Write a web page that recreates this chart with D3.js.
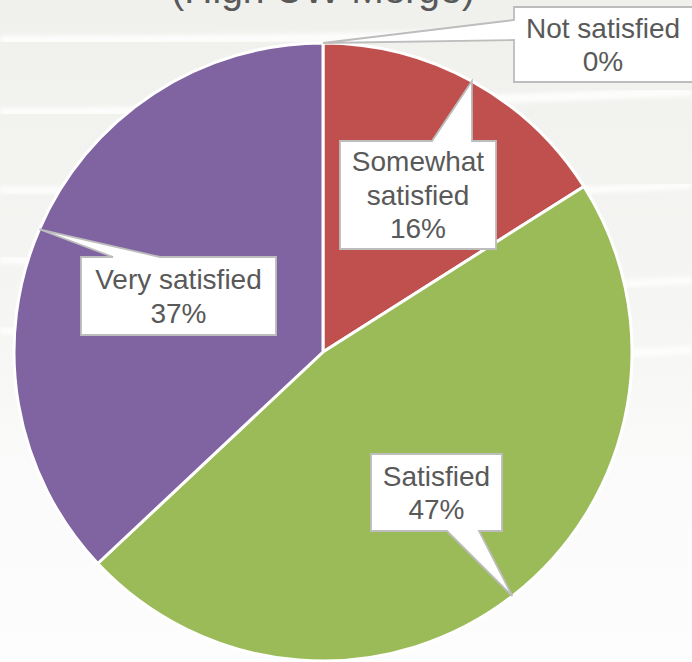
<!DOCTYPE html>
<html>
<head>
<meta charset="utf-8">
<script src="https://d3js.org/d3.v7.min.js"></script>
<style>
  body { margin: 0; background: #fff; }
  svg text { font-family: "Liberation Sans", Arial, sans-serif; fill: #595959; }
</style>
</head>
<body>
<div id="chart"></div>
<script>

// data
var categories = ["Not satisfied", "Somewhat satisfied", "Satisfied", "Very satisfied"]
var values = [0, 16, 47, 37]
var colors = ["#4F81BD", "#C0504D", "#9BBB59", "#8064A2"]
var title = "(High UW Merge)"

// label boxes (layout only)
var boxes = [
  { x: 514, y: 7,   w: 180, h: 75,  side: "left",   b0: 20,  b1: 40 },
  { x: 340, y: 141, w: 156, h: 108, side: "top",    b0: 432, b1: 472 },
  { x: 371, y: 454, w: 131, h: 77,  side: "bottom", b0: 447, b1: 479 },
  { x: 81,  y: 257, w: 195, h: 78,  side: "top",    b0: 113, b1: 160 }
]

var width = 692, height = 662
var cx = 323, cy = 352, radius = 309

var svg = d3.select("#chart").append("svg")
  .attr("width", width)
  .attr("height", height)

// background
var defs = svg.append("defs")
var grad = defs.append("linearGradient").attr("id", "bg")
  .attr("x1", 0).attr("y1", 0).attr("x2", 0).attr("y2", 1)
grad.append("stop").attr("offset", "0%").attr("stop-color", "#f0f1ed")
grad.append("stop").attr("offset", "45%").attr("stop-color", "#f5f6f3")
grad.append("stop").attr("offset", "75%").attr("stop-color", "#fbfbfb")
grad.append("stop").attr("offset", "100%").attr("stop-color", "#fdfdfd")
defs.append("filter").attr("id", "soft")
  .append("feGaussianBlur").attr("stdDeviation", 2)

svg.append("rect").attr("width", width).attr("height", height).attr("fill", "url(#bg)")

// white wave stripes
var stripes = [
  [[0, 40], [250, 40], [500, 34], [692, 24]],
  [[0, 112], [200, 112], [450, 100], [692, 92]],
  [[0, 190], [250, 192], [500, 195], [692, 185]],
  [[0, 260], [300, 265], [520, 290], [692, 280]],
  [[0, 330], [200, 340], [500, 360], [692, 350]]
]
var stripeLine = d3.line().curve(d3.curveBasis)
svg.append("g").selectAll("path")
  .data(stripes)
  .enter().append("path")
    .attr("d", stripeLine)
    .attr("fill", "none")
    .attr("stroke", "#ffffff")
    .attr("stroke-width", function (d, i) { return i < 2 ? 9 : 7 })
    .attr("opacity", 0.85)
    .attr("filter", "url(#soft)")

// title (only its lower part shows in the frame)
svg.append("text")
  .attr("x", cx)
  .attr("y", 3)
  .attr("text-anchor", "middle")
  .style("font-size", "39px")
  .text(title)

// pie
var pie = d3.pie().sort(null).value(function (d) { return d })
var arcs = pie(values)
var arc = d3.arc().innerRadius(0).outerRadius(radius)
var edge = d3.arc().innerRadius(radius).outerRadius(radius)

var g = svg.append("g").attr("transform", "translate(" + cx + "," + cy + ")")
g.selectAll("path.slice")
  .data(arcs)
  .enter().append("path")
    .attr("class", "slice")
    .attr("d", arc)
    .attr("fill", function (d, i) { return colors[i] })
    .attr("stroke", "#ffffff")
    .attr("stroke-width", 3)
    .attr("stroke-linejoin", "round")

// callouts
var total = d3.sum(values)

function calloutPath(b, apex) {
  var x = b.x, y = b.y, r = b.x + b.w, bt = b.y + b.h
  var p = d3.path()
  p.moveTo(x, y)
  if (b.side == "top") { p.lineTo(b.b0, y); p.lineTo(apex[0], apex[1]); p.lineTo(b.b1, y) }
  p.lineTo(r, y)
  p.lineTo(r, bt)
  if (b.side == "bottom") { p.lineTo(b.b1, bt); p.lineTo(apex[0], apex[1]); p.lineTo(b.b0, bt) }
  p.lineTo(x, bt)
  if (b.side == "left") { p.lineTo(x, b.b1); p.lineTo(apex[0], apex[1]); p.lineTo(x, b.b0) }
  p.closePath()
  return p.toString()
}

var labels = svg.append("g")
arcs.forEach(function (d, i) {
  var b = boxes[i]
  var c = edge.centroid(d)
  var apex = [cx + c[0], cy + c[1]]
  labels.append("path")
    .attr("d", calloutPath(b, apex))
    .attr("fill", "#ffffff")
    .attr("stroke", "#bdbdbd")
    .attr("stroke-width", 1.8)
    .attr("stroke-linejoin", "miter")

  var lines = categories[i] == "Somewhat satisfied" ? ["Somewhat", "satisfied"] : [categories[i]]
  lines.push(Math.round(values[i] / total * 100) + "%")
  var fs = 28, lh = 33.6
  var mid = b.y + b.h / 2
  var tx = b.x + Math.min(b.w, width - b.x) / 2
  if (b.x + b.w > width) tx = b.x + 89
  lines.forEach(function (t, k) {
    labels.append("text")
      .attr("x", tx)
      .attr("y", mid + (k - (lines.length - 1) / 2) * lh + fs * 0.35)
      .attr("text-anchor", "middle")
      .style("font-size", fs + "px")
      .text(t)
  })
})

</script>
</body>
</html>
